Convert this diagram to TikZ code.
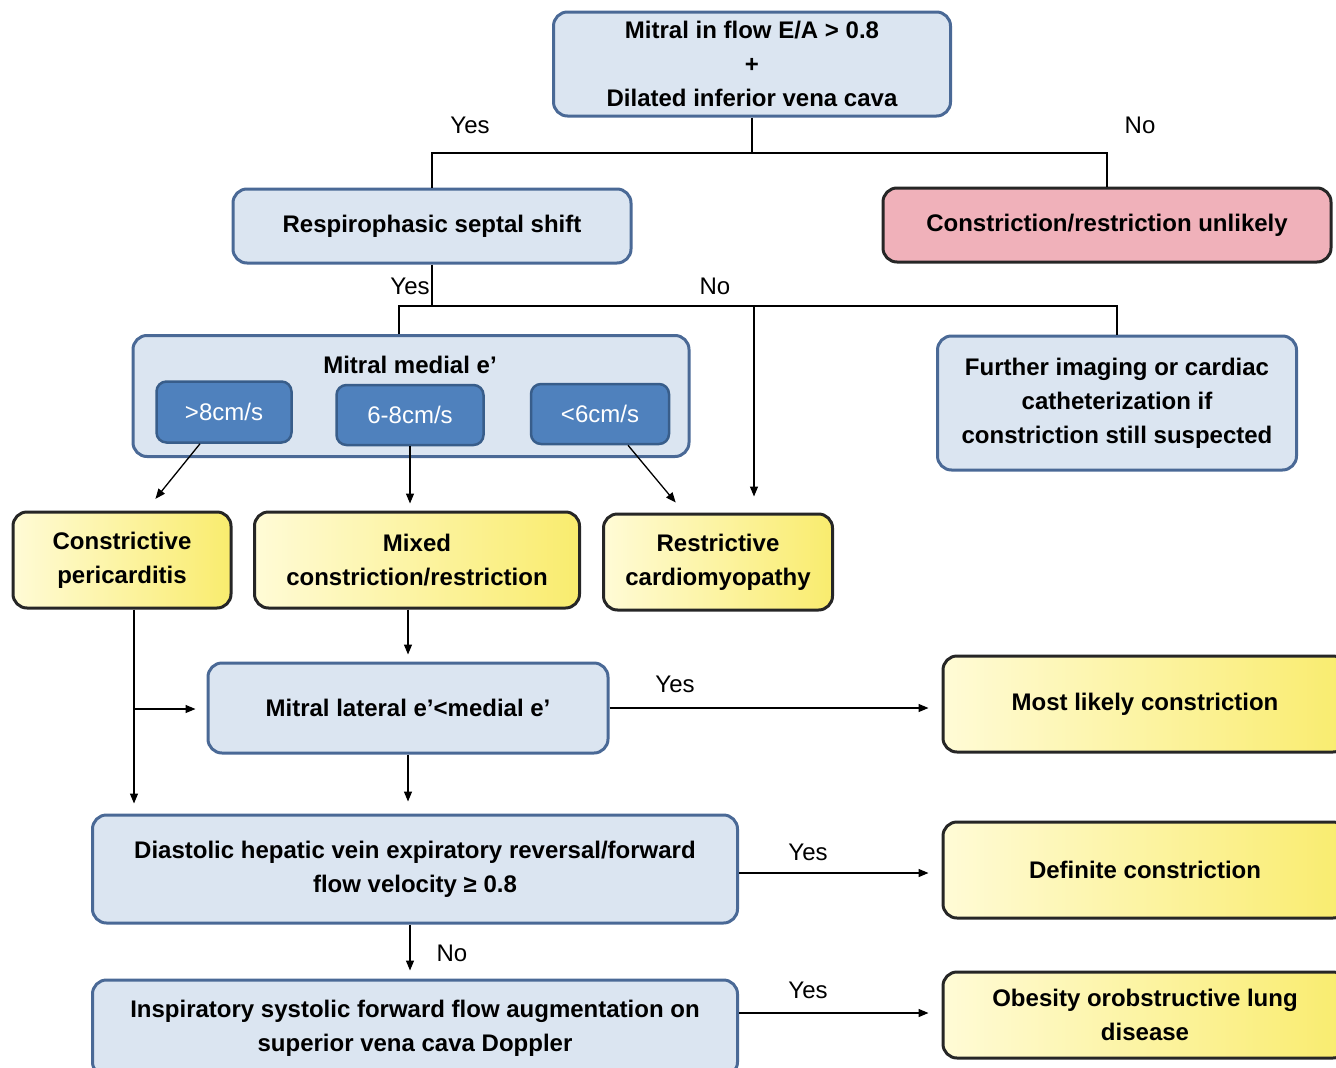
\documentclass[tikz,border=0pt]{standalone}
\usepackage{fontspec}
\setmainfont{Liberation Sans}
\usetikzlibrary{arrows.meta}
\definecolor{bluefill}{RGB}{219,229,241}
\definecolor{blueline}{RGB}{74,105,150}
\definecolor{darkfill}{RGB}{79,129,189}
\definecolor{darkline}{RGB}{56,93,138}
\definecolor{pinkfill}{RGB}{240,177,186}
\definecolor{ylwA}{RGB}{255,251,214}
\definecolor{ylwB}{RGB}{249,236,110}
\begin{document}
\begin{tikzpicture}[x=1pt,y=-1pt,
    every node/.style={font=\fontsize{24}{34}\selectfont\bfseries, align=center},
    bluebox/.style={draw=blueline, line width=3pt, fill=bluefill, rounded corners=14pt},
    subbox/.style={draw=darkline, line width=2.5pt, fill=darkfill, rounded corners=10pt,
        text=white, font=\fontsize{24}{34}\selectfont},
    pinkbox/.style={draw=black!85, line width=3pt, fill=pinkfill, rounded corners=14pt},
    ylwbox/.style={draw=black!85, line width=3pt, left color=ylwA, right color=ylwB, rounded corners=14pt},
    conn/.style={line width=1.3pt},
    arr/.style={line width=1.3pt, -{Triangle[length=10pt,width=8pt]}},
    lbl/.style={font=\fontsize{24}{34}\selectfont}]
            \useasboundingbox (0,0) rectangle (1336,1068);
            \clip (0,0) rectangle (1336,1068);
            \node[bluebox, minimum width=397, minimum height=104] (mitral) at (752,64) {Mitral in flow E/A > 0.8\\+\\Dilated inferior vena cava};
            \node[bluebox, minimum width=398, minimum height=74] (resp) at (432,226) {Respirophasic septal shift};
            \node[pinkbox, minimum width=448, minimum height=74] (unlik) at (1107,225) {Constriction/restriction unlikely};
            \node[bluebox, minimum width=556, minimum height=121] (medial) at (411,396) {};
            \node (medtitle) at (410,365) {Mitral medial e’};
            \node[subbox, minimum width=135, minimum height=61] (gt) at (224,412) {>8cm/s};
            \node[subbox, minimum width=147, minimum height=60] (mid) at (410,415) {6-8cm/s};
            \node[subbox, minimum width=138, minimum height=60] (lt) at (600,414) {<6cm/s};
            \node[bluebox, minimum width=359, minimum height=134] (further) at (1117,403) {Further imaging or cardiac\\catheterization if\\constriction still suspected};
            \node[ylwbox, minimum width=218, minimum height=96] (constr) at (122,560) {Constrictive\\pericarditis};
            \node[ylwbox, minimum width=325, minimum height=96] (mixed) at (417,560) {Mixed\\constriction/restriction};
            \node[ylwbox, minimum width=229, minimum height=96] (restr) at (718,562) {Restrictive\\cardiomyopathy};
            \node[bluebox, minimum width=400, minimum height=90] (lateral) at (408,708) {Mitral lateral e’<medial e’};
            \node[ylwbox, minimum width=404, minimum height=96] (likely) at (1145,704) {Most likely constriction};
            \node[bluebox, minimum width=645, minimum height=108] (diast) at (415,869) {Diastolic hepatic vein expiratory reversal/forward\\flow velocity ≥ 0.8};
            \node[ylwbox, minimum width=404, minimum height=96] (definite) at (1145,870) {Definite constriction};
            \node[bluebox, minimum width=645, minimum height=96] (insp) at (415,1028) {Inspiratory systolic forward flow augmentation on\\superior vena cava Doppler};
            \node[ylwbox, minimum width=404, minimum height=86] (obesity) at (1145,1015) {Obesity orobstructive lung\\disease};
            \coordinate (j1) at (752,153);
            \coordinate (j2) at (432,306);
            \coordinate (j3) at (399,306);
            \coordinate (j4) at (754,306);
            \coordinate (j5) at (134,709);
            \draw[conn] (mitral.south) -- (j1);
            \draw[conn] (resp.north) |- (j1) -| (unlik.north);
            \draw[conn] (resp.south) -- (j2);
            \draw[conn] (j3 |- medial.north) -- (j3) -- (j3 -| further.north) -- (further.north);
            \draw[arr, shorten >=16pt] (j4) -- (j4 |- restr.north);
            \draw[arr, shorten >=15pt] ([xshift=-24pt]gt.south) -- ([xshift=24pt]constr.north);
            \draw[arr, shorten >=7pt] (mid.south) -- (mid.south |- mixed.north);
            \draw[arr, shorten >=13pt] ([xshift=28pt]lt.south) -- ([xshift=-34pt]restr.north);
            \draw[arr, shorten >=10pt] ([xshift=12pt]constr.south) -- ([xshift=12pt]constr.south |- diast.north);
            \draw[arr, shorten >=11pt] (j5) -- (j5 -| lateral.west);
            \draw[arr, shorten >=7pt] (mixed.south -| lateral.north) -- (lateral.north);
            \draw[arr, shorten >=13pt] (lateral.east) -- (lateral.east -| likely.west);
            \draw[arr, shorten >=12pt] (lateral.south) -- (lateral.south |- diast.north);
            \draw[arr, shorten >=13pt] ([yshift=-4pt]diast.east) -- ([yshift=-4pt]diast.east -| definite.west);
            \draw[arr, shorten >=8pt] ([xshift=-5pt]diast.south) -- ([xshift=-5pt]diast.south |- insp.north);
            \draw[arr, shorten >=13pt] ([yshift=15pt]insp.east) -- ([yshift=15pt]insp.east -| obesity.west);
            \node[lbl] (y1) at (470,125) {Yes};
            \node[lbl] (n1) at (1140,125) {No};
            \node[lbl] (y2) at (410,286) {Yes};
            \node[lbl] (n2) at (715,286) {No};
            \node[lbl] (y3) at (675,684) {Yes};
            \node[lbl] (y4) at (808,852) {Yes};
            \node[lbl] (n3) at (452,953) {No};
            \node[lbl] (y5) at (808,990) {Yes};
        \end{tikzpicture}
\end{document}
